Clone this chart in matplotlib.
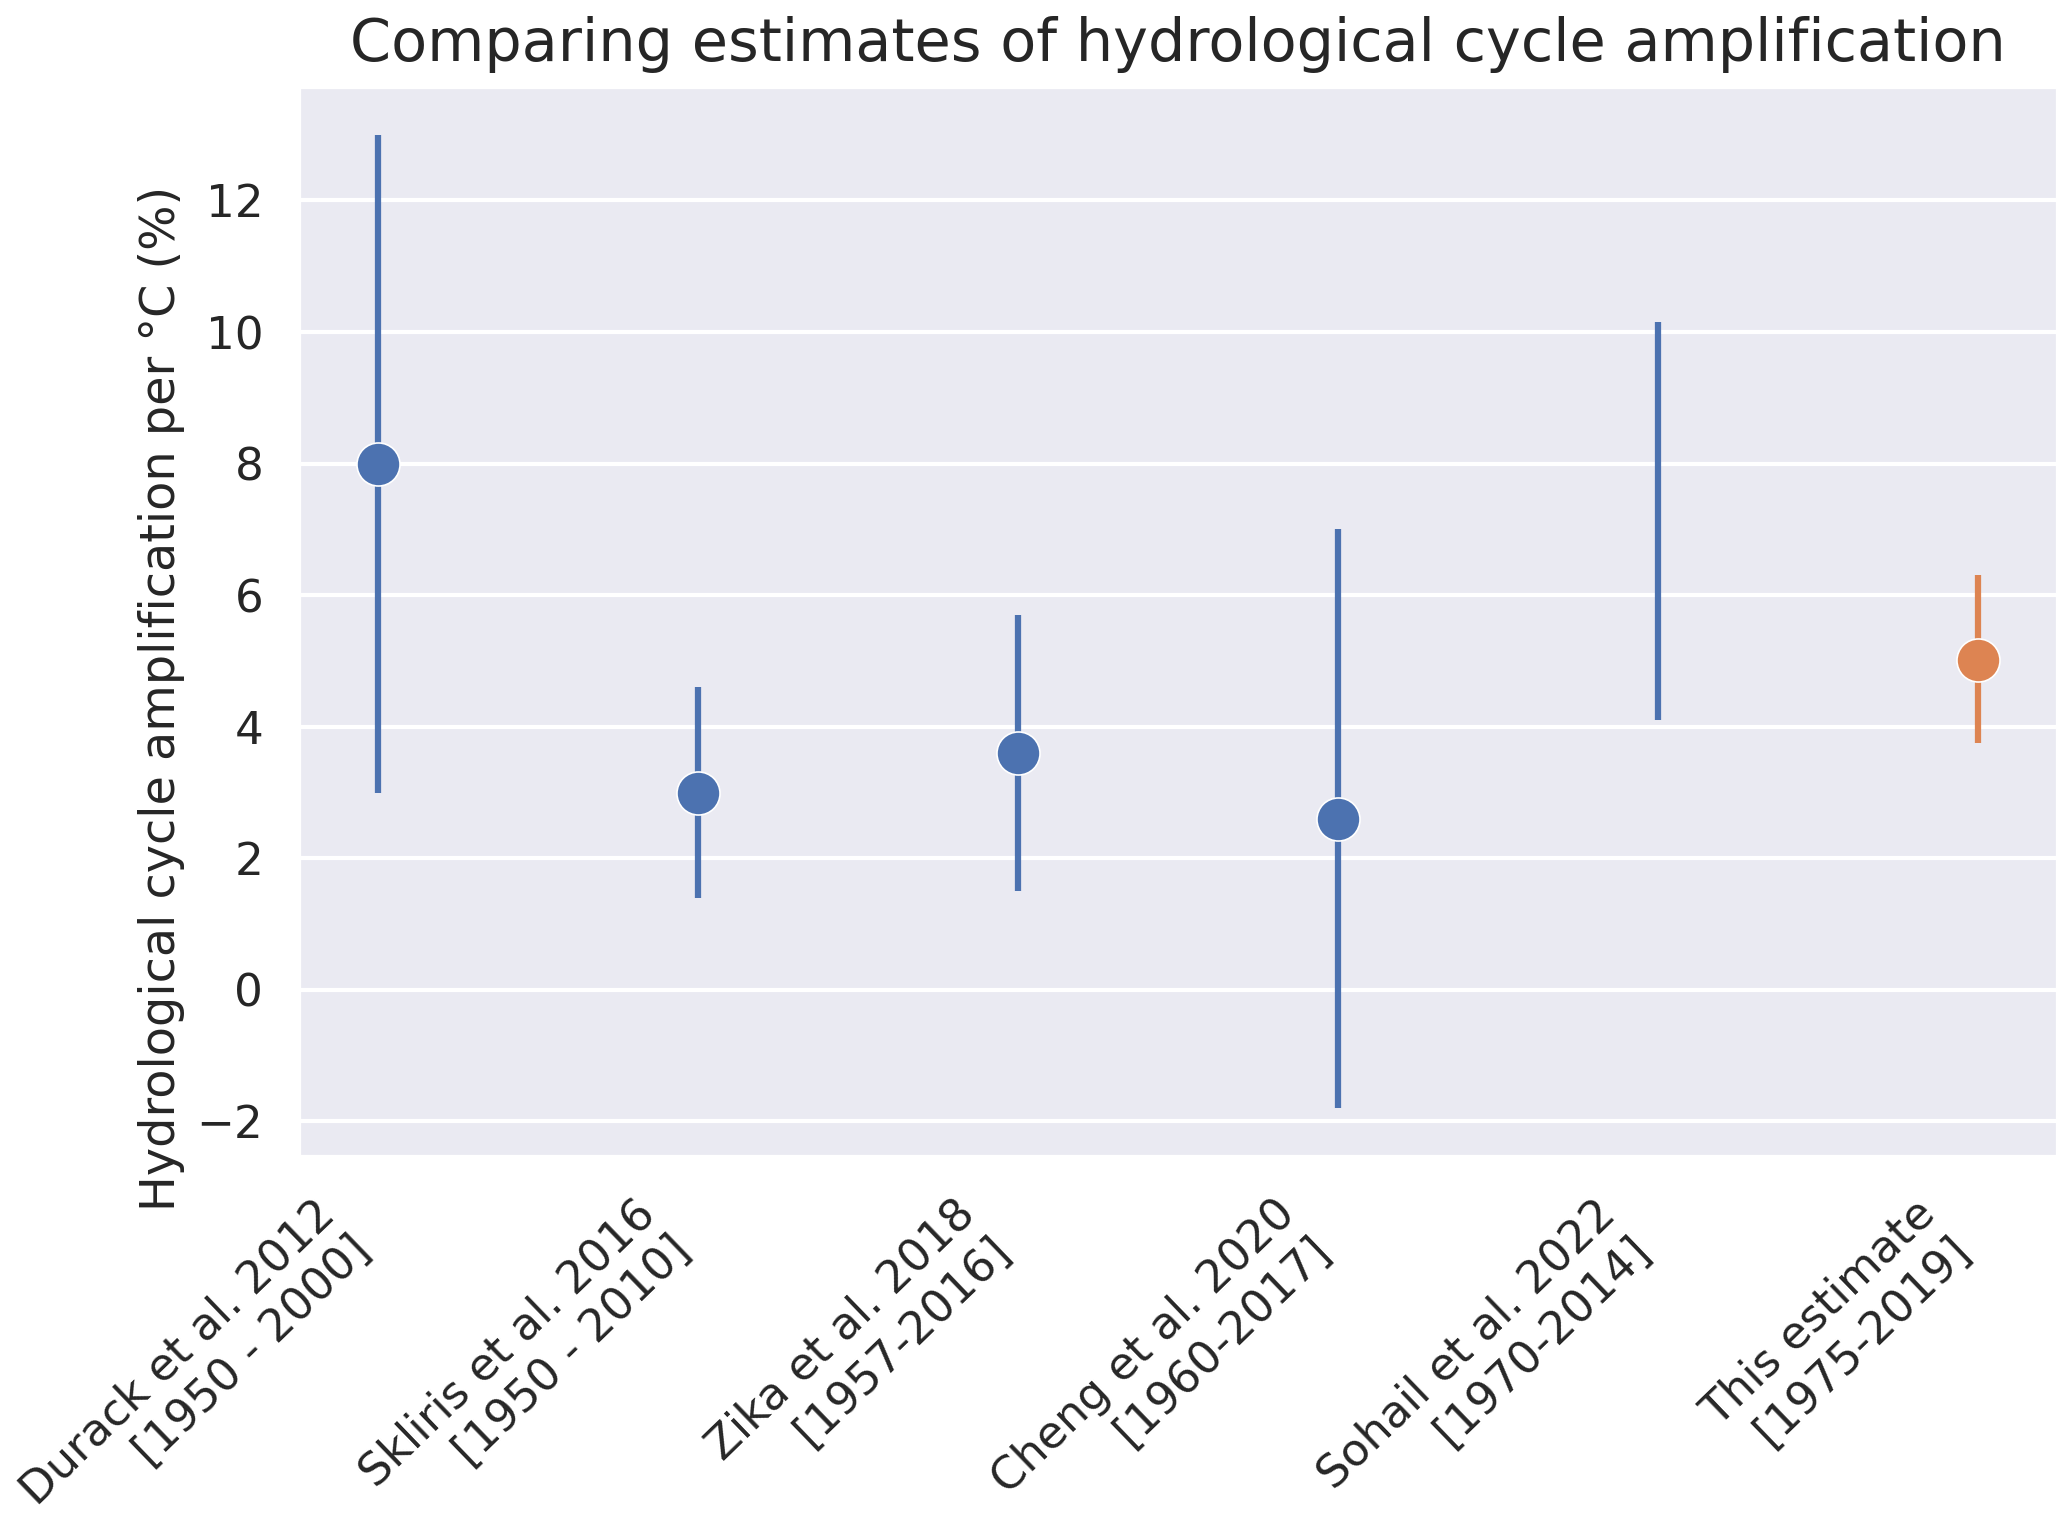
import numpy as np
import matplotlib
matplotlib.use("Agg")
import matplotlib.pyplot as plt
import seaborn as sns

# ---- data ----
studies = ["Durack et al. 2012\n[1950 - 2000]",
           "Skliris et al. 2016\n[1950 - 2010]",
           "Zika et al. 2018\n[1957-2016]",
           "Cheng et al. 2020\n[1960-2017]",
           "Sohail et al. 2022\n[1970-2014]",
           "This estimate\n[1975-2019]"]
central = [8.0, 3.0, 3.6, 2.6, np.nan, 5.02]
lower = [3.0, 1.4, 1.5, -1.8, 4.1, 3.75]
upper = [13.0, 4.6, 5.7, 7.0, 10.15, 6.3]
is_this = [False, False, False, False, False, True]

sns.set_theme(context="talk", style="darkgrid")
pal = sns.color_palette("deep")
colors = [pal[1] if t else pal[0] for t in is_this]

fig = plt.figure(figsize=(2067 / 200, 1526 / 200), dpi=200)
ax = fig.add_axes([298 / 2067, 1 - 1157 / 1526, (2058 - 298) / 2067, (1157 - 86) / 1526])

x = np.arange(len(studies))
ax.vlines(x, lower, upper, colors=colors, linewidth=2.25, zorder=2)
for xi, c, col in zip(x, central, colors):
    if not np.isnan(c):
        ax.plot([xi], [c], "o", color=col, markersize=15.5, markeredgecolor="white",
                markeredgewidth=0.6, zorder=3)

ax.set_xticks(x)
ax.set_xticklabels(studies, rotation=44, ha="right", fontsize=16.2)
ax.tick_params(axis="y", labelsize=16.3)
ax.xaxis.grid(False)
ax.set_yticks(np.arange(-2, 13, 2))
ax.set_ylabel("Hydrological cycle amplification per °C (%)", fontsize=17.2, y=0.428)
ax.set_title("Comparing estimates of hydrological cycle amplification", fontsize=21.2, pad=9)

fig.savefig("out.png", dpi=200)
